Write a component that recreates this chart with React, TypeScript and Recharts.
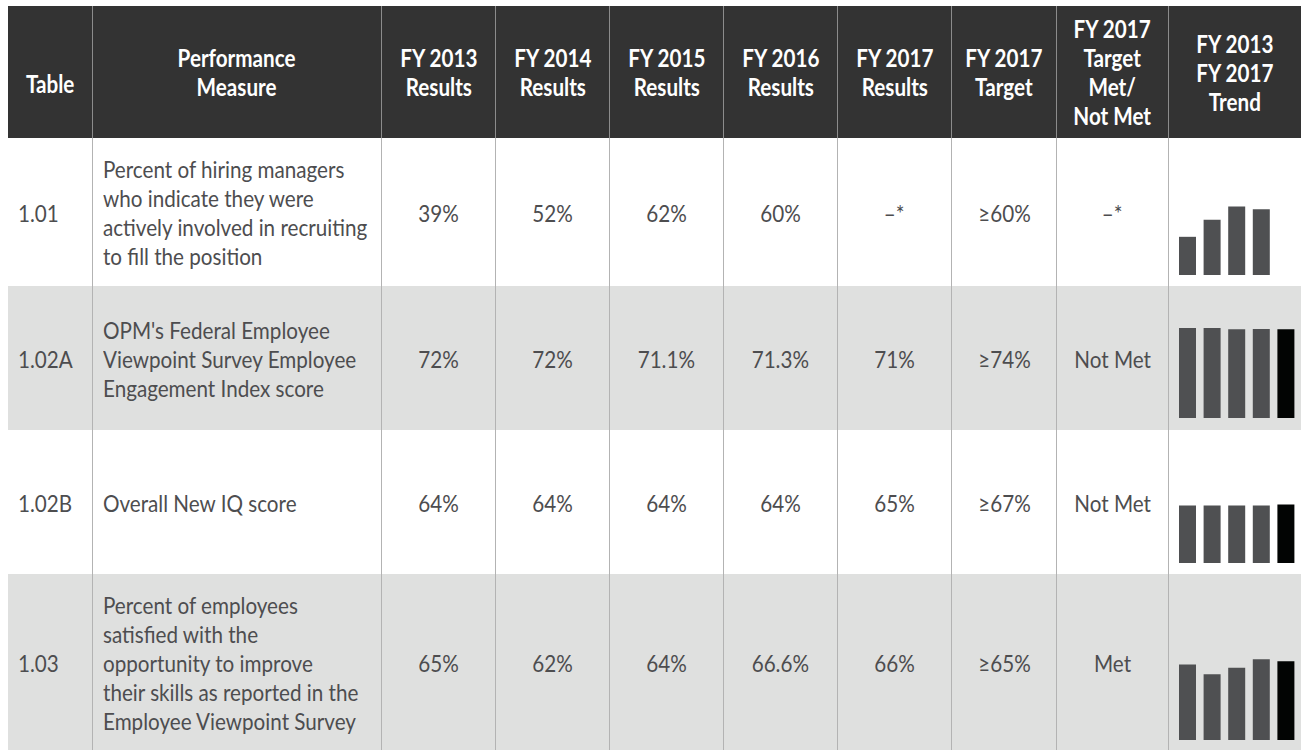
import React from "react";
import { BarChart, Bar, XAxis, YAxis, Cell } from "recharts";

// ---- data ----
const headers = [
  "Table",
  "Performance\nMeasure",
  "FY 2013\nResults",
  "FY 2014\nResults",
  "FY 2015\nResults",
  "FY 2016\nResults",
  "FY 2017\nResults",
  "FY 2017\nTarget",
  "FY 2017\nTarget\nMet/\nNot Met",
  "FY 2013\nFY 2017\nTrend",
];

const tableIds = ["1.01", "1.02A", "1.02B", "1.03"];

const measures = [
  ["Percent of hiring managers", "who indicate they were", "actively involved in recruiting", "to fill the position"],
  ["OPM's Federal Employee", "Viewpoint Survey Employee", "Engagement Index score"],
  ["Overall New IQ score"],
  ["Percent of employees", "satisfied with the", "opportunity to improve", "their skills as reported in the", "Employee Viewpoint Survey"],
];

const results2013 = ["39%", "72%", "64%", "65%"];
const results2014 = ["52%", "72%", "64%", "62%"];
const results2015 = ["62%", "71.1%", "64%", "64%"];
const results2016 = ["60%", "71.3%", "64%", "66.6%"];
const results2017 = ["–*", "71%", "65%", "66%"];
const targets2017 = ["≥60%", "≥74%", "≥67%", "≥65%"];
const targetMet = ["–*", "Not Met", "Not Met", "Met"];

const trendYears = ["FY 2013", "FY 2014", "FY 2015", "FY 2016", "FY 2017"];
const trend101 = [39, 52, 62, 60, null];
const trend102A = [72, 72, 71.1, 71.3, 71];
const trend102B = [64, 64, 64, 64, 65];
const trend103 = [65, 62, 64, 66.6, 66];
const trendSeries = [trend101, trend102A, trend102B, trend103];

// per-row sparkline scale (each row is scaled on its own, like the original)
const trendDomains: [number, number][] = [[10, 70], [0, 80], [0, 80], [42, 70]];

// ---- layout ----
const COL_W = [84, 289, 114, 114, 114, 114, 114, 105, 112, 133];
const HEADER_H = 132;
const ROW_H = [148, 144, 144, 177];
const ROW_BG = ["#ffffff", "#dfe0df", "#ffffff", "#dfe0df"];
const SPARK = [
  { top: 58, h: 79 },
  { top: 32, h: 100 },
  { top: 61, h: 72 },
  { top: 74, h: 92 },
];
const FONT = 'Lato, "Liberation Sans", sans-serif';
const SX = 0.86; // squeeze to mimic the condensed face of the original
const TEXT = "#4d4d4f";
const GREY_BAR = "#4f5052";
const BLACK_BAR = "#020403";

function Sparkline({ values, domain, height }: { values: (number | null)[]; domain: [number, number]; height: number }) {
  const data = trendYears.map((year, i) => ({ year, value: values[i] }));
  return (
    <BarChart width={123} height={height} data={data} margin={{ top: 0, right: 0, bottom: 0, left: 0 }}>
      <XAxis dataKey="year" hide />
      <YAxis type="number" domain={domain} allowDataOverflow hide />
      <Bar dataKey="value" barSize={17} isAnimationActive={false}>
        {data.map((d, i) => (
          <Cell key={d.year} fill={i === trendYears.length - 1 ? BLACK_BAR : GREY_BAR} />
        ))}
      </Bar>
    </BarChart>
  );
}

function Squeezed({ lines, origin }: { lines: string[]; origin: string }) {
  return (
    <div style={{ transform: `scaleX(${SX})`, transformOrigin: origin, whiteSpace: "nowrap" }}>
      {lines.map((line, i) => (
        <div key={i}>{line}</div>
      ))}
    </div>
  );
}

export default function App() {
  const rowCells = (r: number) => [
    [tableIds[r]],
    measures[r],
    [results2013[r]],
    [results2014[r]],
    [results2015[r]],
    [results2016[r]],
    [results2017[r]],
    [targets2017[r]],
    [targetMet[r]],
  ];

  return (
    <div
      style={{
        position: "fixed",
        top: 6,
        left: 8,
        width: 1293,
        height: 744,
        overflow: "hidden",
        fontFamily: FONT,
      }}
    >
      {/* header */}
      <div style={{ display: "flex", height: HEADER_H, background: "#333333" }}>
        {headers.map((h, c) => (
          <div
            key={c}
            style={{
              width: COL_W[c],
              flex: "none",
              boxSizing: "border-box",
              borderLeft: c === 0 ? "none" : "1px solid #8c8c8c",
              display: "flex",
              alignItems: "center",
              justifyContent: "center",
              paddingTop: c === 0 ? 22 : 0,
              color: "#ffffff",
              fontWeight: "bold",
              fontSize: 24,
              lineHeight: "29px",
              textAlign: "center",
            }}
          >
            <Squeezed lines={h.split("\n")} origin="center center" />
          </div>
        ))}
      </div>

      {/* body */}
      {tableIds.map((id, r) => (
        <div key={id} style={{ display: "flex", height: ROW_H[r], background: ROW_BG[r] }}>
          {rowCells(r).map((v, c) => (
            <div
              key={c}
              style={{
                width: COL_W[c],
                flex: "none",
                boxSizing: "border-box",
                borderLeft: c === 0 ? "none" : "1px solid #b3b3b3",
                display: "flex",
                flexDirection: "column",
                justifyContent: "center",
                alignItems: c < 2 ? "flex-start" : "center",
                paddingLeft: c < 2 ? 10 : 0,
                color: TEXT,
                fontSize: 24,
                lineHeight: "29px",
                textAlign: c < 2 ? "left" : "center",
              }}
            >
              <Squeezed lines={v} origin={c < 2 ? "left center" : "center center"} />
            </div>
          ))}
          <div
            style={{
              width: COL_W[9],
              flex: "none",
              boxSizing: "border-box",
              borderLeft: "1px solid #b3b3b3",
              position: "relative",
            }}
          >
            <div style={{ position: "absolute", left: 6, top: SPARK[r].top }}>
              <Sparkline values={trendSeries[r]} domain={trendDomains[r]} height={SPARK[r].h} />
            </div>
          </div>
        </div>
      ))}
    </div>
  );
}
